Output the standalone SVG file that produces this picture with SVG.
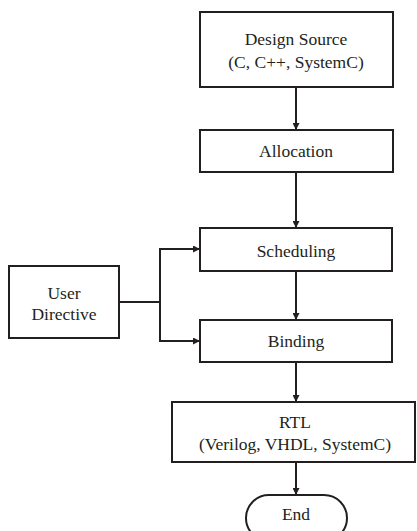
<svg xmlns="http://www.w3.org/2000/svg" width="417" height="531" viewBox="0 0 417 531">
<defs>
<style>
.box{fill:#fff;stroke:#231f20;stroke-width:2}
.ln{fill:none;stroke:#231f20;stroke-width:2}
</style>
<marker id="ah" viewBox="0 0 10 10" refX="10" refY="5" markerWidth="7" markerHeight="7" markerUnits="userSpaceOnUse" orient="auto">
<path d="M0,0L10,5L0,10z" fill="#231f20"/>
</marker>
</defs>
<rect width="417" height="531" fill="#fff"/>
<g id="connectors">
<path class="ln" d="M296,87V130" marker-end="url(#ah)"/>
<path class="ln" d="M296,172V228" marker-end="url(#ah)"/>
<path class="ln" d="M296,271V320" marker-end="url(#ah)"/>
<path class="ln" d="M296,362V402" marker-end="url(#ah)"/>
<path class="ln" d="M296,462V495" marker-end="url(#ah)"/>
<path class="ln" d="M119,302H160"/>
<path class="ln" d="M160,341V249H200" marker-end="url(#ah)"/>
<path class="ln" d="M160,302V341H200" marker-end="url(#ah)"/>
</g>
<g font-family="Liberation Serif, DejaVu Serif, serif" font-size="17.5" fill="#231f20" text-anchor="middle">
<g id="design-source">
<rect class="box" x="200" y="12" width="193" height="75"/>
<text x="296" y="45">Design Source</text>
<text x="296" y="68">(C, C++, SystemC)</text>
</g>
<g id="allocation">
<rect class="box" x="200" y="130" width="193" height="42"/>
<text x="296" y="157">Allocation</text>
</g>
<g id="scheduling">
<rect class="box" x="200" y="228" width="192" height="43"/>
<text x="296" y="257">Scheduling</text>
</g>
<g id="user-directive">
<rect class="box" x="9" y="266" width="110" height="72"/>
<text x="64" y="299">User</text>
<text x="64" y="320">Directive</text>
</g>
<g id="binding">
<rect class="box" x="200" y="320" width="192" height="42"/>
<text x="296" y="347">Binding</text>
</g>
<g id="rtl">
<rect class="box" x="172" y="402" width="243" height="60"/>
<text x="295" y="428">RTL</text>
<text x="295" y="450">(Verilog, VHDL, SystemC)</text>
</g>
<g id="end">
<rect class="box" x="246" y="495" width="101" height="46" rx="23"/>
<text x="296" y="520">End</text>
</g>
</g>
</svg>
